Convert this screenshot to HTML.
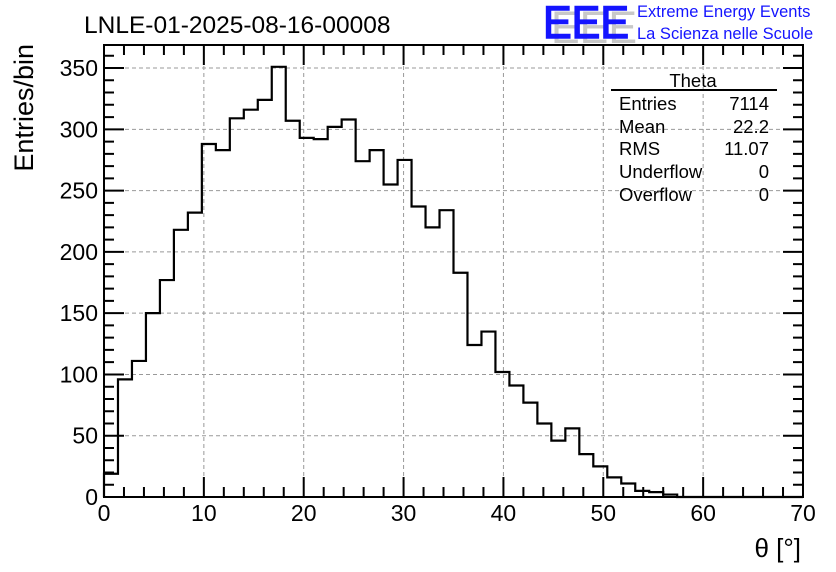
<!DOCTYPE html>
<html><head><meta charset="utf-8"><style>
body{margin:0;background:#fff}
svg{display:block;font-family:"Liberation Sans",sans-serif}
</style></head><body>
<svg id="c" width="836" height="572" viewBox="0 0 836 572">
<rect width="836" height="572" fill="#fff"/>
<text x="84" y="33" font-size="24.5">LNLE-01-2025-08-16-00008</text>
<g>
<text x="547" y="41" font-size="45" fill="#c8c8c8" transform="translate(4,2)" textLength="86" lengthAdjust="spacingAndGlyphs">EEE</text>
<text x="543" y="38" font-size="45" fill="#1414ff" stroke="#1414ff" stroke-width="1.5" textLength="86" lengthAdjust="spacingAndGlyphs">EEE</text>
<text x="637" y="17" font-size="16.5" fill="#1414ff">Extreme Energy Events</text>
<text x="637" y="39" font-size="16.5" fill="#1414ff">La Scienza nelle Scuole</text>
</g>
<g id="grid"></g>
<g id="ticks"></g>
<path id="hist" fill="none" stroke="#000" stroke-width="2.2"/>
<rect x="104" y="45" width="699" height="452" fill="none" stroke="#000" stroke-width="2"/>
<g id="labels" font-size="23"></g>
<text transform="translate(33,44) rotate(-90)" text-anchor="end" font-size="27">Entries/bin</text>
<text x="801" y="557" text-anchor="end" font-size="26">θ [°]</text>
<g font-size="18.5">
<text x="693" y="87" text-anchor="middle">Theta</text>
<line x1="611" y1="90" x2="777" y2="90" stroke="#000" stroke-width="2"/>
<text x="619" y="110">Entries</text><text x="769" y="110" text-anchor="end">7114</text>
<text x="619" y="133">Mean</text><text x="769" y="133" text-anchor="end">22.2</text>
<text x="619" y="155">RMS</text><text x="769" y="155" text-anchor="end">11.07</text>
<text x="619" y="178">Underflow</text><text x="769" y="178" text-anchor="end">0</text>
<text x="619" y="201">Overflow</text><text x="769" y="201" text-anchor="end">0</text>
</g>
</svg>
<script>
const binCounts=[19,96,111,150,177,218,232,288,283,309,316,324,351,307,293,292,302,308,274,283,255,275,237,220,234,183,124,135,102,91,77,60,46,56,35,25,16,11,5,4,2,0,0,0,0,0,0,0,0,0];
const xTicks=[0,10,20,30,40,50,60,70];
const yTicks=[0,50,100,150,200,250,300,350];
const binWidth=1.4;
const X0=104,X1=803,Y0=497,Y1=45;
const sx=v=>X0+v*(X1-X0)/70;
const sy=v=>Y0-v*(Y1-Y0)/-368.8;
const NS="http://www.w3.org/2000/svg";
function mk(tag,attrs,parent){const e=document.createElementNS(NS,tag);for(const k in attrs)e.setAttribute(k,attrs[k]);parent.appendChild(e);return e;}
const grid=document.getElementById('grid'),ticks=document.getElementById('ticks'),labels=document.getElementById('labels');
xTicks.forEach(v=>{
 if(v>0&&v<70){const l=mk('line',{x1:sx(v),x2:sx(v),y1:Y0,y2:Y1,stroke:'#999','stroke-dasharray':'4,3','stroke-width':1},grid);
 
 }
 const t=mk('text',{x:sx(v),y:521,'text-anchor':'middle'},labels);t.textContent=v;
 
 
});
yTicks.forEach(v=>{
 if(v>0){const l=mk('line',{x1:X0,x2:X1,y1:sy(v),y2:sy(v),stroke:'#999','stroke-dasharray':'4,3','stroke-width':1},grid);
 
 }
 const t=mk('text',{x:98,y:sy(v)+8,'text-anchor':'end'},labels);t.textContent=v;
 
 
});
let d='';
for(let v=0;v<=70;v+=2){const len=v%10===0?20:10;const x=sx(v);
 d+=`M${x},${Y0}V${Y0-len}M${x},${Y1}V${Y1+len}`;}
for(let v=0;v<=360;v+=10){const y=sy(v);if(y<Y1)break;const len=v%50===0?20:10;
 d+=`M${X0},${y}H${X0+len}M${X1},${y}H${X1-len}`;}
mk('path',{d:d,stroke:'#000','stroke-width':2,fill:'none'},ticks);
let p=`M${sx(0)},${sy(0)}`;
binCounts.forEach((c,i)=>{p+=`V${sy(c)}H${sx((i+1)*binWidth)}`;});
p+=`V${sy(0)}`;
document.getElementById('hist').setAttribute('d',p);
</script>
</body></html>
